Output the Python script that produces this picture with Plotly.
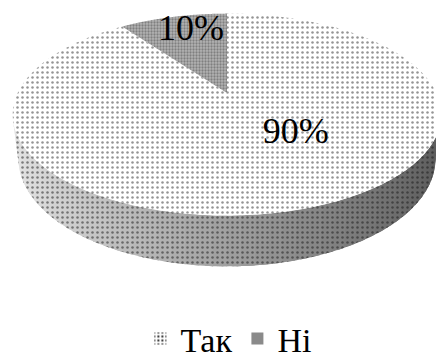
import numpy as np
import plotly.graph_objects as go

# Survey answers
categories = ["Так", "Ні"]
values = [90, 10]
label_text = ["90%", "10%"]

# Canvas
W, H = 436, 360

# 3-D pie view (perspective camera looking down at a flat disc)
CX, CY = 227, 93          # screen position of the disc centre
FOCAL = 870               # perspective scale
DIST = 4.156              # camera distance, in disc radii
TILT = np.radians(27.4)   # camera elevation
DEPTH = 0.24              # disc thickness, in radii

# Per-slice label placement: radius fraction and turn from mid-angle (deg)
LABEL_R = [0.49, 0.77]
LABEL_TURN = [-20.0, 3.0]

FONT = "Liberation Serif, Times New Roman, serif"

# Fill textures per category
TOP_PATTERN = {
    "Так": dict(shape=".", bgcolor="#ffffff", fgcolor="#2a2a2a", size=5, solidity=0.2),
    "Ні": dict(shape=".", bgcolor="#b4b4b4", fgcolor="#4a4a4a", size=3, solidity=0.45),
}


def project(phi, z=0.0, r=1.0):
    """Angle phi is measured clockwise from 12 o'clock (radians)."""
    X = r * np.sin(phi)
    Y = r * np.cos(phi)
    s, c = np.sin(TILT), np.cos(TILT)
    v = Y * s + z * c
    w = DIST + Y * c - z * s
    return CX + FOCAL * X / w, CY - FOCAL * v / w


def side_grey(phi):
    g = 160 - 72 * np.sin(phi)
    g = int(np.clip(g, 60, 235))
    return f"rgb({g},{g},{g})"


fig = go.Figure()

total = float(sum(values))
bounds = np.concatenate([[0.0], np.cumsum(values) / total * 2 * np.pi])

# Side wall: only the part facing the camera is visible
k = 1.0 / (DIST * np.cos(TILT))
vis_lo, vis_hi = np.arccos(-k), 2 * np.pi - np.arccos(-k)
n_strips = 48
for i, name in enumerate(categories):
    a0, a1 = max(bounds[i], vis_lo), min(bounds[i + 1], vis_hi)
    if a1 <= a0:
        continue
    edges = np.linspace(a0, a1, n_strips + 1)
    step = edges[1] - edges[0]
    for j in range(n_strips):
        s0 = edges[j]
        s1 = min(edges[j + 1] + 0.6 * step, a1)
        ph = np.linspace(s0, s1, 6)
        xt, yt = project(ph, 0.0)
        xb, yb = project(ph[::-1], -DEPTH)
        g = side_grey(0.5 * (edges[j] + edges[j + 1]))
        fig.add_trace(go.Scatter(
            x=np.concatenate([xt, xb]), y=np.concatenate([yt, yb]),
            mode="none", fill="toself", fillcolor=g,
            fillpattern=dict(shape=".", bgcolor=g, fgcolor="#151515", size=5, solidity=0.2),
            showlegend=False, hoverinfo="skip",
        ))

# Top face slices
for i, name in enumerate(categories):
    ph = np.linspace(bounds[i], bounds[i + 1], 200)
    xa, ya = project(ph, 0.0)
    fig.add_trace(go.Scatter(
        x=np.concatenate([[CX], xa, [CX]]), y=np.concatenate([[CY], ya, [CY]]),
        mode="none", fill="toself", name=name,
        fillcolor=TOP_PATTERN[name]["bgcolor"],
        fillpattern=TOP_PATTERN[name],
        showlegend=False, hoverinfo="skip",
    ))

# Percentage labels
lx, ly = [], []
for i in range(len(categories)):
    mid = 0.5 * (bounds[i] + bounds[i + 1]) + np.radians(LABEL_TURN[i])
    px, py = project(mid, 0.0, LABEL_R[i])
    lx.append(px)
    ly.append(py)
fig.add_trace(go.Scatter(
    x=lx, y=ly, mode="text", text=label_text,
    textposition="middle center",
    textfont=dict(family=FONT, size=36, color="#000000"),
    showlegend=False, hoverinfo="skip",
))

# Legend keys: the same answers as a pie trace, so the legend shows square swatches
fig.add_trace(go.Pie(
    labels=categories, values=values, sort=False,
    marker=dict(
        colors=[TOP_PATTERN[c]["bgcolor"] for c in categories],
        pattern=dict(
            shape=[".", "."],
            bgcolor=["#ffffff", "#c8c8c8"],
            fgcolor=["#333333", "#3a3a3a"],
            size=[4, 2], solidity=[0.25, 0.5],
        ),
        line=dict(width=0),
    ),
    domain=dict(x=[0, 0.0001], y=[0, 0.0001]),
    textinfo="none", hoverinfo="skip",
))

fig.update_layout(
    width=W, height=H,
    margin=dict(l=0, r=0, t=0, b=0, autoexpand=False),
    paper_bgcolor="#ffffff", plot_bgcolor="#ffffff",
    xaxis=dict(range=[0, W], visible=False, fixedrange=True),
    yaxis=dict(range=[H, 0], visible=False, fixedrange=True),
    showlegend=True,
    legend=dict(
        orientation="h", x=0.525, xanchor="center",
        y=-0.022, yanchor="bottom",
        font=dict(family=FONT, size=34, color="#000000"),
        bgcolor="rgba(0,0,0,0)", traceorder="normal",
    ),
)

fig.write_html("out.html")
